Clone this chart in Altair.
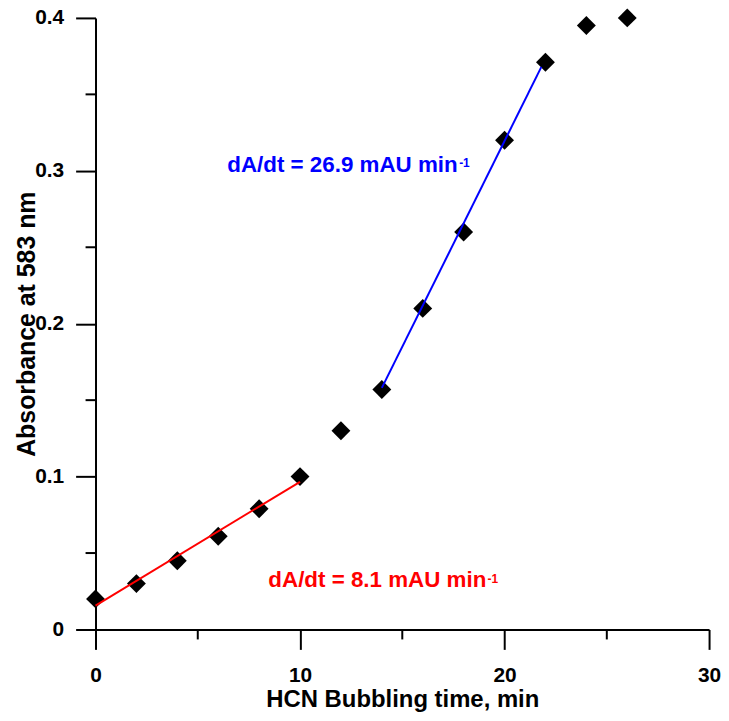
import altair as alt
import pandas as pd

# measured data
time_min = [0, 2, 4, 6, 8, 10, 12, 14, 16, 18, 20, 22, 24, 26]
absorbance = [0.020, 0.030, 0.045, 0.061, 0.079, 0.100, 0.130, 0.157,
              0.210, 0.260, 0.320, 0.371, 0.395, 0.400]

# linear fits
red_fit_x = [0, 10]
red_fit_y = [0.0156, 0.0966]
blue_fit_x = [14, 21.8]
blue_fit_y = [0.158, 0.368]

# axis ticks
x_major = [0, 10, 20, 30]
y_major = [0, 0.1, 0.2, 0.3, 0.4]
x_minor = [5, 15, 25]
y_minor = [0.05, 0.15, 0.25, 0.35]

# annotations
ann_text = ["dA/dt = 26.9 mAU min", "dA/dt = 8.1 mAU min"]
ann_x = [6.44, 8.45]
ann_y = [0.2995, 0.0275]
ann_color = ["#0000FF", "#FF0000"]
sup_text = ["-1", "-1"]
sup_x = [17.78, 19.17]
sup_y = [0.3027, 0.0307]

FONT = "Liberation Sans"
W = 617
H = 615

pts = pd.DataFrame({"t": time_min, "a": absorbance})
fits = pd.DataFrame({
    "t": red_fit_x + blue_fit_x,
    "a": red_fit_y + blue_fit_y,
    "col": ["#FF0000"] * 2 + ["#0000FF"] * 2,
})
ann = pd.DataFrame({"t": ann_x, "a": ann_y, "txt": ann_text, "col": ann_color})
sup = pd.DataFrame({"t": sup_x, "a": sup_y, "txt": sup_text, "col": ann_color})
xmin_df = pd.DataFrame({"t": x_minor})
ymin_df = pd.DataFrame({"a": y_minor})

xscale = alt.Scale(domain=[0, 30], nice=False, zero=False)
yscale = alt.Scale(domain=[0, 0.4], nice=False, zero=False)

x_axis = alt.Axis(
    values=x_major, format="d", grid=False,
    tickSize=20, tickWidth=2, tickColor="black",
    domainWidth=2, domainColor="black",
    labelFont=FONT, labelFontSize=21, labelFontWeight="bold", labelColor="black",
    labelPadding=15, labelFlush=False, labelOverlap=False, labelBound=False,
    title="HCN Bubbling time, min", titleFont=FONT, titleFontSize=24,
    titleFontWeight="bold", titleColor="black",
    titleBaseline="alphabetic", titleY=77,
)
y_axis = alt.Axis(
    values=y_major, format=".1~f", grid=False,
    tickSize=20, tickWidth=2, tickColor="black",
    domainWidth=2, domainColor="black",
    labelFont=FONT, labelFontSize=21, labelFontWeight="bold", labelColor="black",
    labelPadding=12, labelFlush=False, labelOverlap=False, labelBound=False,
    title="Absorbance at 583 nm", titleFont=FONT, titleFontSize=25,
    titleFontWeight="bold", titleColor="black",
    titleBaseline="alphabetic", titleX=-61,
)


def X():
    return alt.X("t:Q", scale=xscale, axis=x_axis)


def Y():
    return alt.Y("a:Q", scale=yscale, axis=y_axis)


points = alt.Chart(pts).mark_point(
    shape="diamond", filled=True, size=361, color="black", opacity=1
).encode(x=X(), y=Y())

lines = alt.Chart(fits).mark_line(strokeWidth=2).encode(
    x=X(), y=Y(), color=alt.Color("col:N", scale=None),
)

texts = alt.Chart(ann).mark_text(
    align="left", baseline="alphabetic", font=FONT, fontSize=22.5, fontWeight="bold"
).encode(x=X(), y=Y(), text="txt:N", color=alt.Color("col:N", scale=None))

sups = alt.Chart(sup).mark_text(
    align="left", baseline="alphabetic", font=FONT, fontSize=12, fontWeight="bold"
).encode(x=X(), y=Y(), text="txt:N", color=alt.Color("col:N", scale=None))

xminor = alt.Chart(xmin_df).mark_rule(color="black", strokeWidth=2).encode(
    x=X(), y=alt.value(H), y2=alt.value(H + 10),
)
yminor = alt.Chart(ymin_df).mark_rule(color="black", strokeWidth=2).encode(
    y=Y(), x=alt.value(0), x2=alt.value(-10),
)

chart = alt.layer(points, lines, texts, sups, xminor, yminor).properties(
    width=W, height=H,
    padding={"left": 88, "top": 8, "right": 12, "bottom": 82},
    autosize=alt.AutoSizeParams(type="none"),
    background="white",
).configure_view(stroke=None)

chart.save("out.html", embed_options={"renderer": "svg", "actions": False})
